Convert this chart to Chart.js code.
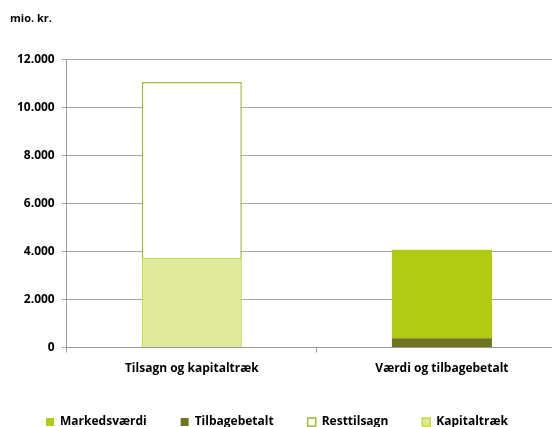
<!DOCTYPE html>
<html>
<head>
<meta charset="utf-8">
<script src="https://cdn.jsdelivr.net/npm/chart.js@4/dist/chart.umd.min.js"></script>
<style>
html,body{margin:0;padding:0;background:#fff;overflow:hidden;}
#wrap{position:relative;width:570px;height:443px;}
</style>
</head>
<body>
<div id="wrap"><canvas id="c"></canvas></div>
<script>
const categories = ["Tilsagn og kapitaltræk", "Værdi og tilbagebetalt"];
const kapitaltraek = [3730, null];
const resttilsagn = [7320, null];
const tilbagebetalt = [null, 390];
const markedsvaerdi = [null, 3680];
const yTicks = [0, 2000, 4000, 6000, 8000, 10000, 12000];

const FONT = "'Open Sans', sans-serif";

// centre the legend on the visible 552px window (the plot itself runs past the right edge)
const legendShift = {
  id: 'legendShift',
  afterLayout(chart) {
    const lg = chart.legend;
    if (!lg) return;
    const d = (lg.left + lg.right) / 2 - 277;
    lg.left -= d; lg.right -= d;
    lg.top -= 3; lg.bottom -= 3;
  }
};

new Chart(document.getElementById('c'), {
  type: 'bar',
  data: {
    labels: categories,
    datasets: [
      {label: 'Kapitaltræk', data: kapitaltraek, backgroundColor: '#dfe99c', borderColor: '#c6dc3c', borderWidth: 1.5},
      {label: 'Resttilsagn', data: resttilsagn, backgroundColor: '#ffffff', borderColor: '#a0b73a', borderWidth: 1.5},
      {label: 'Tilbagebetalt', data: tilbagebetalt, backgroundColor: '#6e7420', borderColor: '#6e7420', borderWidth: 0},
      {label: 'Markedsværdi', data: markedsvaerdi, backgroundColor: '#b1cb13', borderColor: '#b1cb13', borderWidth: 0}
    ]
  },
  plugins: [legendShift],
  options: {
    responsive: true,
    maintainAspectRatio: false,
    animation: false,
    layout: {padding: {left: 10, right: 3, top: 8, bottom: 2}},
    datasets: {bar: {barPercentage: 0.4, categoryPercentage: 1.0, skipNull: true}},
    plugins: {
      title: {display: true, text: 'mio. kr.', align: 'start', color: '#000',
        font: {family: FONT, size: 11, weight: 'bold'}, padding: {top: 4, bottom: 34}},
      legend: {position: 'bottom', reverse: true,
        labels: {boxWidth: 8, boxHeight: 8, padding: 34, color: '#000',
          font: {family: FONT, size: 12, weight: 'bold'}}},
      tooltip: {enabled: false}
    },
    scales: {
      x: {stacked: true,
        grid: {display: true, drawOnChartArea: false, tickLength: 5, color: '#999', offset: true},
        border: {color: '#999'},
        ticks: {color: '#000', padding: 9, font: {family: FONT, size: 12, weight: 'bold'}}},
      y: {stacked: true, min: 0, max: 12000,
        afterBuildTicks: (ax) => { ax.ticks = yTicks.map(v => ({value: v})); },
        grid: {color: '#a6a6a6', tickLength: 5},
        border: {color: '#999'},
        ticks: {color: '#000', padding: 7, font: {family: FONT, size: 12, weight: 'bold'},
          callback: v => v.toLocaleString('da-DK')}}
    }
  }
});
</script>
</body>
</html>
